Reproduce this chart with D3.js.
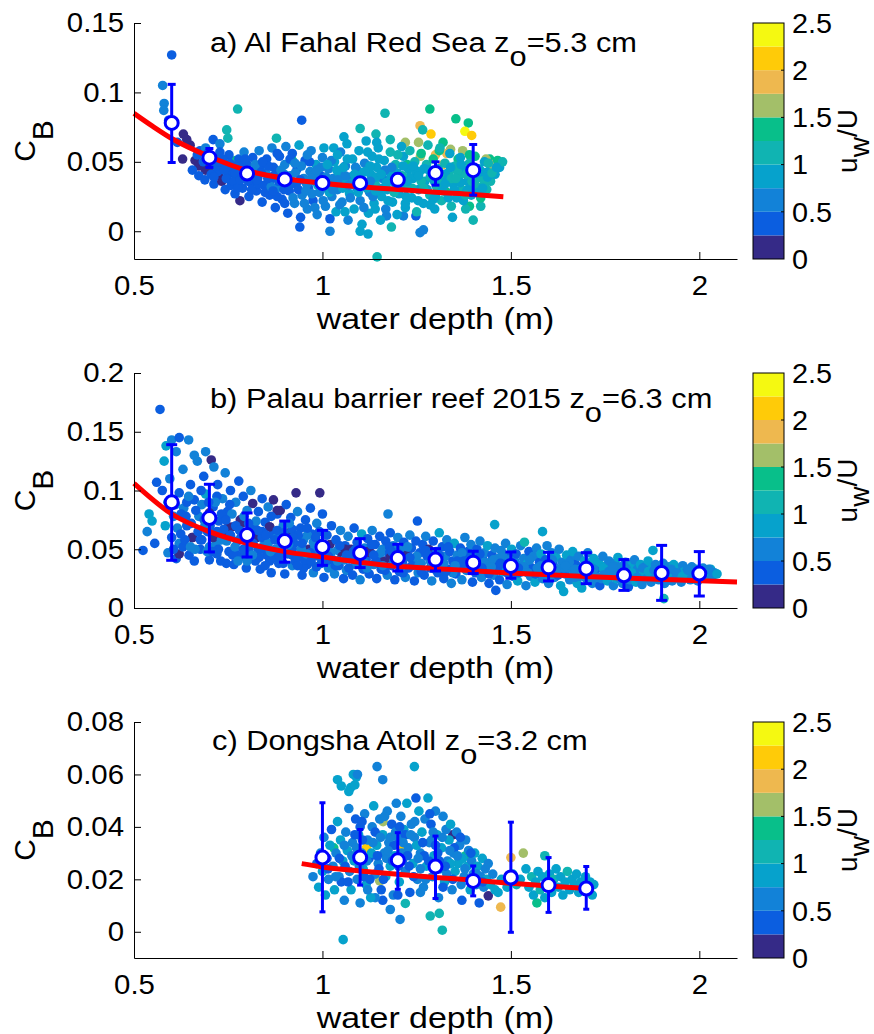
<!DOCTYPE html>
<html>
<head>
<meta charset="utf-8">
<script src="https://cdn.jsdelivr.net/npm/d3@7"></script>
<style>
  body { margin: 0; background: #fff; }
  text { font-family: "Liberation Sans", Arial, Helvetica, sans-serif; fill: #000; }
</style>
</head>
<body>
<svg id="chart" width="874" height="1034"></svg>
<script>
// ---------- data ----------
var xTicks = [0.5, 1, 1.5, 2]
var cbTicks = [0, 0.5, 1, 1.5, 2, 2.5]
var parula = ["#352a87", "#0b5ee0", "#1282d8", "#06a2cc", "#10b4b2", "#08bf8a", "#a3bf69", "#eeb84f", "#ffcb08", "#f5f911"]

var titles = [
  {pre: "a) Al Fahal Red Sea z", sub: "o", post: "=5.3 cm"},
  {pre: "b) Palau barrier reef 2015 z", sub: "o", post: "=6.3 cm"},
  {pre: "c) Dongsha Atoll z", sub: "o", post: "=3.2 cm"}
]

// [depth, C_B, u_w/U]
var scatterA = [
  [0.600,0.127,0.4],[0.576,0.105,0.6],[0.580,0.092,0.6],[0.579,0.087,0.6],[0.592,0.080,0.4],
  [0.631,0.070,0.1],[0.649,0.062,0.1],[0.629,0.052,0.1],[0.662,0.051,0.1],[0.640,0.066,0.1],[0.615,0.064,0.4],
  [0.675,0.058,0.4],[0.710,0.066,0.4],[0.746,0.073,1.1],[0.749,0.067,1.1],[0.775,0.088,1.1],[0.728,0.063,0.6],[0.690,0.060,0.6],
  [0.725,0.040,0.1],[0.781,0.022,0.1],[0.706,0.049,0.1],[0.690,0.044,0.1],[0.672,0.047,0.1],
  [0.945,0.080,0.4],[1.166,0.085,1.1],[1.285,0.088,1.4],[1.354,0.081,1.4],[1.387,0.078,1.4],
  [1.259,0.076,1.9],[1.288,0.070,2.1],[1.378,0.072,2.4],[1.396,0.069,2.1],[1.266,0.073,1.1],
  [1.100,0.074,1.1],[1.142,0.070,1.1],[1.144,0.064,0.9],[1.057,0.068,0.9],[0.878,0.067,1.1],
  [1.030,0.060,0.9],[1.180,0.066,1.1],[1.220,0.064,1.6],[1.255,0.064,1.6],[1.320,0.064,1.4],[1.340,0.059,1.6],[1.300,0.055,1.9],[1.330,0.056,1.9],[1.310,0.058,1.4],
  [1.444,0.052,1.4],[1.434,0.052,1.6],[1.372,0.058,1.6],[1.320,0.048,1.9],[1.360,0.052,1.4],[1.390,0.055,1.4],[1.260,0.054,1.6],[1.225,0.048,1.4],
  [0.770,0.051,1.4],[0.920,0.051,1.4],[1.430,0.030,1.1],
  [1.145,-0.0185,1.1],[1.259,-0.001,0.6],[1.268,0.001,0.6],[1.121,-0.002,0.9],[1.020,0.000,0.6],[0.940,0.003,0.4],[1.100,0.000,0.9],[1.183,0.003,1.1],
  [1.400,0.008,1.1],[1.345,0.010,0.9],[1.420,0.018,1.1],[1.390,0.018,1.4],[1.286,0.019,0.9],[1.248,0.011,0.4],[1.170,0.011,0.6],[1.215,0.011,0.6],
  [0.655,0.044,0.4],[0.668,0.055,0.4],[0.672,0.040,0.4],[0.684,0.050,0.4],[0.688,0.037,0.4],[0.695,0.056,0.4],[0.700,0.045,0.1],
  [0.712,0.034,0.4],[0.715,0.052,0.4],[0.722,0.043,0.4],[0.728,0.057,0.4],[0.733,0.036,0.1],[0.738,0.048,0.4],[0.742,0.030,0.4],
  [0.750,0.041,0.4],[0.752,0.055,0.4],[0.758,0.033,0.4],[0.762,0.047,0.4],[0.768,0.027,0.4],[0.772,0.038,0.6],[0.778,0.052,0.4],[0.780,0.044,0.4],
  [0.788,0.031,0.4],[0.792,0.057,0.6],[0.796,0.040,0.4],[0.800,0.048,0.4],[0.805,0.025,0.4],[0.810,0.035,0.4],[0.815,0.053,0.4],[0.818,0.043,0.6],
  [0.825,0.029,0.4],[0.828,0.038,0.4],[0.832,0.058,0.6],[0.836,0.047,0.4],[0.840,0.021,0.4],[0.845,0.033,0.4],[0.850,0.042,0.6],[0.852,0.052,0.4],
  [0.860,0.026,0.4],[0.862,0.037,0.4],[0.866,0.060,0.6],[0.870,0.046,0.4],[0.875,0.017,0.4],[0.878,0.031,0.6],[0.882,0.041,0.4],[0.886,0.054,0.4],
  [0.893,0.023,0.4],[0.896,0.035,0.4],[0.900,0.048,0.6],[0.903,0.061,0.6],[0.908,0.013,0.4],[0.912,0.029,0.4],[0.915,0.040,0.6],[0.920,0.056,0.4],
  [0.926,0.020,0.6],[0.930,0.034,0.4],[0.933,0.045,0.4],[0.938,0.062,0.9],[0.942,0.010,0.4],[0.946,0.026,0.6],[0.950,0.038,0.6],[0.954,0.051,0.4],
  [0.960,0.016,0.6],[0.963,0.031,0.4],[0.967,0.043,0.6],[0.970,0.058,0.6],[0.975,0.022,0.4],[0.978,0.036,0.6],[0.983,0.048,0.9],[0.986,0.012,0.6],
  [0.992,0.028,0.6],[0.995,0.040,0.4],[1.000,0.053,0.6],[1.004,0.060,0.9],[1.008,0.018,0.6],[1.012,0.033,0.9],[1.016,0.045,0.6],[1.020,0.009,0.4],
  [1.025,0.025,0.6],[1.028,0.038,0.6],[1.032,0.050,0.9],[1.036,0.014,0.9],[1.040,0.030,0.6],[1.044,0.042,0.9],[1.048,0.057,0.6],[1.052,0.021,0.6],
  [1.058,0.035,0.9],[1.061,0.047,0.6],[1.065,0.063,0.9],[1.068,0.008,0.6],[1.072,0.027,0.9],[1.076,0.039,0.6],[1.080,0.052,0.9],[1.084,0.016,0.9],
  [1.090,0.032,0.6],[1.093,0.044,0.9],[1.097,0.058,0.9],[1.100,0.022,0.6],[1.105,0.005,0.9],[1.108,0.036,0.9],[1.112,0.049,0.6],[1.116,0.065,0.9],
  [1.122,0.013,0.9],[1.125,0.028,0.6],[1.128,0.041,0.9],[1.132,0.054,0.9],[1.137,0.020,0.9],[1.140,0.034,1.1],[1.144,0.046,0.9],[1.148,0.060,0.9],
  [1.154,0.008,0.9],[1.157,0.025,0.9],[1.160,0.038,0.6],[1.164,0.051,0.9],[1.168,0.016,0.6],[1.172,0.030,0.9],[1.176,0.043,0.9],[1.180,0.057,1.1],
  [1.186,0.021,0.9],[1.190,0.035,0.9],[1.194,0.048,1.1],[1.198,0.012,0.9],[1.203,0.027,0.9],[1.207,0.040,0.9],[1.210,0.061,0.9],[1.215,0.054,0.9],
  [1.220,0.017,0.9],[1.224,0.032,1.1],[1.228,0.045,0.9],[1.232,0.058,1.1],[1.237,0.024,0.9],[1.240,0.038,0.9],[1.245,0.050,1.1],[1.250,0.014,1.1],
  [1.255,0.030,0.9],[1.258,0.043,1.1],[1.262,0.056,1.4],[1.268,0.020,0.9],[1.272,0.036,0.9],[1.276,0.048,1.1],[1.280,0.062,1.1],[1.285,0.026,1.1],
  [1.290,0.040,0.9],[1.294,0.052,1.4],[1.298,0.016,0.9],[1.303,0.032,1.1],[1.307,0.045,0.9],[1.312,0.060,1.1],[1.316,0.022,1.1],[1.320,0.037,0.9],
  [1.325,0.049,1.1],[1.330,0.028,1.4],[1.334,0.042,1.1],[1.338,0.056,0.9],[1.342,0.018,1.1],[1.347,0.034,0.9],[1.352,0.047,1.1],[1.356,0.024,0.9],
  [1.361,0.039,1.1],[1.366,0.053,0.9],[1.370,0.030,1.1],[1.375,0.044,0.9],[1.380,0.016,1.1],[1.385,0.036,0.9],[1.390,0.049,1.1],[1.395,0.026,0.9],
  [1.400,0.041,0.9],[1.405,0.054,1.4],[1.410,0.032,1.1],[1.415,0.045,0.9],[1.420,0.024,1.4],[1.425,0.038,1.1],[1.430,0.050,0.9],[1.436,0.030,1.1],
  [1.440,0.043,0.9],[1.446,0.036,1.1],[1.452,0.048,1.6],[1.458,0.041,0.9],[1.465,0.051,1.4],[1.470,0.046,0.9],[1.478,0.050,1.1]
]
var coreA = [
  [0.705,0.041,0.4],[0.718,0.047,0.4],[0.735,0.052,0.4],[0.745,0.038,0.4],[0.757,0.044,0.4],[0.765,0.036,0.4],[0.775,0.031,0.4],[0.785,0.047,0.4],
  [0.795,0.052,0.4],[0.803,0.036,0.4],[0.812,0.030,0.4],[0.822,0.048,0.6],[0.830,0.034,0.4],[0.838,0.042,0.4],[0.848,0.028,0.4],[0.856,0.047,0.4],
  [0.864,0.032,0.6],[0.872,0.040,0.4],[0.880,0.025,0.4],[0.890,0.044,0.6],[0.898,0.030,0.4],[0.906,0.036,0.4],[0.914,0.052,0.4],[0.922,0.024,0.6],
  [0.928,0.042,0.6],[0.936,0.030,0.4],[0.944,0.047,0.6],[0.952,0.020,0.6],[0.958,0.034,0.6],[0.966,0.050,0.4],[0.972,0.027,0.6],[0.980,0.041,0.6],
  [0.988,0.033,0.9],[0.996,0.046,0.6],[1.002,0.022,0.6],[1.010,0.039,0.6],[1.018,0.028,0.9],[1.024,0.051,0.6],[1.030,0.034,0.6],[1.038,0.044,0.9],
  [1.046,0.019,0.6],[1.054,0.031,0.9],[1.060,0.040,0.6],[1.066,0.052,0.9],[1.074,0.024,0.6],[1.082,0.035,0.9],[1.088,0.046,0.6],[1.095,0.028,0.9],
  [1.102,0.040,0.9],[1.110,0.017,0.6],[1.118,0.031,0.9],[1.126,0.047,0.9],[1.134,0.025,0.6],[1.142,0.039,0.9],[1.150,0.052,0.9],[1.158,0.031,0.9],
  [1.166,0.044,0.6],[1.174,0.022,0.9],[1.182,0.038,0.9],[1.190,0.028,1.1],[1.198,0.042,0.9],[1.206,0.033,0.9],[1.214,0.047,0.9],[1.222,0.025,0.9],
  [1.230,0.039,0.9],[1.238,0.031,1.1],[1.246,0.044,0.9],[1.254,0.022,0.9],[1.262,0.036,1.1],[1.270,0.045,0.9],[1.278,0.030,0.9],[1.286,0.039,1.1],
  [1.294,0.023,0.9],[1.302,0.044,0.9],[1.310,0.034,1.1],[1.318,0.029,0.9],[1.326,0.041,0.9],[1.334,0.024,0.9],[1.342,0.038,1.1],[1.350,0.030,0.9],
  [1.358,0.043,1.1],[1.366,0.035,0.9],[1.374,0.022,0.9],[1.382,0.041,1.1],[1.390,0.031,0.9],[1.398,0.046,0.9],[1.406,0.037,1.1],[1.414,0.028,0.9],
  [1.422,0.043,0.9],[1.430,0.034,1.1],[1.438,0.039,0.9],[1.450,0.042,1.1],[1.462,0.046,0.9],
  [0.712,0.039,0.4],[0.726,0.050,0.4],[0.740,0.044,0.4],[0.754,0.049,0.4],[0.768,0.042,0.4],[0.782,0.037,0.4],[0.797,0.044,0.4],[0.811,0.041,0.4],
  [0.826,0.037,0.4],[0.841,0.050,0.4],[0.855,0.038,0.4],[0.869,0.029,0.4],[0.884,0.036,0.4],[0.899,0.041,0.6],[0.913,0.033,0.4],[0.927,0.049,0.6],
  [0.941,0.037,0.4],[0.956,0.029,0.6],[0.970,0.038,0.6],[0.985,0.044,0.6],[0.999,0.031,0.6],[1.013,0.048,0.9],[1.027,0.030,0.6],[1.041,0.037,0.6],
  [1.056,0.046,0.9],[1.070,0.033,0.6],[1.085,0.041,0.9],[1.099,0.034,0.6],[1.113,0.043,0.9],[1.127,0.036,0.6],[1.141,0.029,0.9],[1.156,0.041,0.9],
  [1.170,0.035,0.9],[1.184,0.046,0.6],[1.198,0.032,0.9],[1.212,0.040,1.1],[1.226,0.036,0.9],[1.241,0.047,0.9],[1.255,0.040,0.9],[1.269,0.031,1.1],
  [1.283,0.044,0.9],[1.297,0.036,0.9],[1.311,0.041,1.1],[1.325,0.034,0.9],[1.340,0.046,0.9],[1.354,0.038,1.1],[1.368,0.048,0.9],[1.383,0.029,0.9],
  [1.397,0.036,1.1],[1.411,0.042,0.9],[1.425,0.031,0.9],[1.440,0.049,1.1],[0.880,0.056,0.4],[0.960,0.055,0.6],[1.040,0.055,0.9],[1.120,0.057,0.9],
  [1.200,0.055,1.1],[0.900,0.020,0.4],[0.980,0.017,0.6],[1.060,0.014,0.9],[1.140,0.016,0.9],[1.220,0.020,0.9],[1.300,0.025,0.9],[1.380,0.026,1.1]
]

var scatterB = [
  [0.569,0.169,0.4],[0.524,0.049,0.4],[0.555,0.055,0.4],[0.540,0.080,0.9],[0.548,0.074,0.9],[0.560,0.107,0.4],[0.535,0.065,0.6],
  [0.585,0.138,0.9],[0.600,0.143,0.6],[0.620,0.145,0.4],[0.645,0.143,0.6],[0.660,0.130,0.6],[0.690,0.133,0.6],[0.580,0.125,0.9],[0.612,0.133,0.6],
  [0.595,0.110,0.6],[0.575,0.100,0.4],[0.590,0.090,0.6],[0.583,0.070,0.9],[0.600,0.060,0.4],[0.590,0.047,0.6],[0.612,0.042,0.4],[0.605,0.078,0.6],
  [0.620,0.098,0.4],[0.630,0.118,0.6],[0.632,0.085,0.6],[0.640,0.070,0.4],[0.620,0.055,0.6],[0.646,0.045,0.4],[0.655,0.060,0.1],[0.650,0.105,0.4],[0.660,0.092,0.4],
  [0.668,0.125,0.6],[0.672,0.078,0.6],[0.676,0.050,0.4],[0.685,0.112,0.4],[0.690,0.097,0.9],[0.695,0.065,0.4],[0.700,0.041,0.4],[0.705,0.126,0.1],
  [0.710,0.086,0.4],[0.712,0.120,0.6],[0.718,0.055,0.6],[0.722,0.105,0.4],[0.725,0.074,0.4],[0.730,0.040,0.4],[0.735,0.093,0.6],[0.740,0.062,0.1],
  [0.742,0.115,0.6],[0.748,0.082,0.4],[0.752,0.048,0.4],[0.756,0.100,0.4],[0.760,0.069,0.1],[0.765,0.037,0.4],[0.770,0.090,0.6],[0.774,0.057,0.4],
  [0.778,0.108,0.4],[0.782,0.075,0.1],[0.786,0.044,0.4],[0.790,0.095,0.4],[0.794,0.064,0.6],[0.798,0.034,0.4],[0.800,0.083,0.6],[0.805,0.050,0.4],
  [0.810,0.100,0.6],[0.815,0.089,0.1],[0.818,0.070,0.4],[0.822,0.040,0.4],[0.826,0.060,0.1],[0.830,0.082,0.4],[0.835,0.033,0.4],[0.840,0.093,0.4],
  [0.844,0.053,0.6],[0.848,0.073,0.4],[0.852,0.045,0.4],[0.856,0.086,0.6],[0.860,0.069,0.1],[0.864,0.030,0.4],[0.868,0.062,0.4],[0.870,0.092,0.1],
  [0.875,0.050,0.6],[0.880,0.080,0.4],[0.884,0.038,0.4],[0.888,0.083,0.1],[0.892,0.058,0.4],[0.896,0.070,0.6],[0.900,0.029,0.4],[0.904,0.088,0.4],
  [0.908,0.046,0.4],[0.912,0.064,0.1],[0.916,0.077,0.4],[0.920,0.036,0.6],[0.925,0.055,0.4],[0.930,0.098,0.1],[0.934,0.082,0.6],[0.938,0.044,0.4],
  [0.942,0.068,0.4],[0.946,0.028,0.4],[0.950,0.058,0.6],[0.955,0.075,0.4],[0.960,0.037,0.4],[0.964,0.050,0.1],[0.968,0.085,0.4],[0.972,0.063,0.4],
  [0.976,0.030,0.6],[0.980,0.045,0.4],[0.985,0.072,0.6],[0.990,0.055,0.4],[0.993,0.098,0.1],[0.997,0.038,0.4],[1.000,0.080,0.4],
  [0.700,0.081,0.1],[0.750,0.069,0.1],[0.785,0.072,0.1],[0.860,0.069,0.1],[0.880,0.083,0.1],[0.620,0.046,0.1],[0.655,0.060,0.1],
  [0.630,0.052,0.4],[0.660,0.040,0.4],[0.680,0.058,0.4],[0.700,0.052,0.6],[0.720,0.046,0.4],[0.745,0.038,0.4],[0.770,0.046,0.4],[0.800,0.040,0.6],
  [0.830,0.050,0.4],[0.860,0.040,0.4],[0.890,0.048,0.4],[0.920,0.045,0.4],[0.950,0.034,0.4],[0.980,0.052,0.6],[0.640,0.090,0.4],[0.680,0.088,0.6],
  [0.720,0.095,0.4],[0.760,0.080,0.6],[0.800,0.060,0.4],[0.840,0.065,0.4],[0.880,0.060,0.6],[0.920,0.067,0.4],[0.960,0.062,0.6],[0.990,0.044,0.4],
  [1.004,0.026,0.4],[1.008,0.047,0.6],[1.012,0.062,0.4],[1.016,0.034,0.6],[1.020,0.054,0.1],[1.024,0.070,0.4],[1.028,0.041,0.4],
  [1.032,0.029,0.6],[1.036,0.058,0.4],[1.040,0.049,0.6],[1.044,0.036,0.4],[1.048,0.066,0.6],[1.052,0.044,0.1],[1.056,0.025,0.4],
  [1.060,0.053,0.4],[1.064,0.032,0.6],[1.068,0.061,0.6],[1.072,0.042,0.4],[1.076,0.050,0.1],[1.080,0.028,0.4],[1.084,0.068,0.4],
  [1.088,0.037,0.6],[1.092,0.056,0.4],[1.096,0.046,0.4],[1.100,0.024,0.6],[1.104,0.063,0.9],[1.108,0.033,0.4],[1.112,0.051,0.6],
  [1.116,0.041,0.4],[1.120,0.059,0.4],[1.124,0.029,0.4],[1.128,0.047,0.1],[1.132,0.066,0.6],[1.136,0.037,0.6],[1.140,0.054,0.4],
  [1.144,0.025,0.4],[1.148,0.044,0.6],[1.152,0.061,0.4],[1.156,0.033,0.4],[1.160,0.050,0.6],[1.164,0.040,0.1],[1.168,0.057,0.4],
  [1.174,0.080,0.6],[1.172,0.028,0.6],[1.176,0.046,0.4],[1.180,0.064,0.4],[1.184,0.036,0.4],[1.188,0.053,0.6],[1.192,0.024,0.4],
  [1.196,0.043,0.4],[1.200,0.060,0.6],[1.204,0.031,0.4],[1.208,0.049,0.6],[1.212,0.039,0.4],[1.216,0.056,0.4],[1.220,0.026,0.6],
  [1.224,0.045,0.1],[1.228,0.034,0.4],[1.232,0.062,0.6],[1.236,0.051,0.4],[1.240,0.041,0.6],[1.244,0.023,0.4],[1.248,0.057,0.4],
  [1.252,0.074,0.4],[1.254,0.030,0.6],[1.258,0.047,0.4],[1.262,0.038,0.6],[1.266,0.054,0.4],[1.270,0.028,0.4],[1.274,0.061,0.6],
  [1.278,0.044,0.4],[1.282,0.050,0.1],[1.286,0.034,0.4],[1.290,0.023,0.6],[1.294,0.057,0.4],[1.298,0.041,0.6],[1.302,0.048,0.4],
  [1.060,0.050,0.1],[1.120,0.048,0.1],[1.180,0.043,0.1],
  [1.306,0.030,0.4],[1.310,0.064,0.9],[1.314,0.037,0.6],[1.318,0.052,0.4],[1.322,0.025,0.4],[1.326,0.044,0.6],[1.330,0.058,0.6],
  [1.334,0.033,0.4],[1.338,0.048,0.4],[1.342,0.021,0.6],[1.346,0.040,0.4],[1.350,0.055,0.9],[1.354,0.029,0.4],[1.358,0.045,0.6],
  [1.362,0.036,0.4],[1.366,0.051,0.4],[1.370,0.024,0.6],[1.374,0.042,0.4],[1.378,0.060,0.6],[1.382,0.032,0.6],[1.386,0.048,0.4],
  [1.390,0.038,0.4],[1.394,0.054,0.6],[1.398,0.022,0.4],[1.402,0.044,0.9],[1.406,0.030,0.4],[1.410,0.050,0.4],[1.414,0.036,0.6],
  [1.418,0.057,0.6],[1.422,0.026,0.6],[1.426,0.041,0.4],[1.430,0.047,0.6],[1.434,0.033,0.4],[1.438,0.053,0.9],[1.442,0.021,0.4],
  [1.446,0.039,0.6],[1.450,0.045,0.4],[1.454,0.028,0.6],[1.457,0.071,0.9],[1.458,0.051,0.6],[1.460,0.015,0.4],[1.462,0.035,0.4],[1.466,0.042,0.6],
  [1.470,0.024,0.4],[1.474,0.049,0.6],[1.478,0.031,0.9],[1.482,0.038,0.4],[1.486,0.055,0.6],[1.490,0.020,0.6],[1.494,0.044,0.4],
  [1.498,0.034,0.6],[1.502,0.050,0.9],[1.506,0.027,0.4],[1.510,0.040,0.6],[1.514,0.046,0.4],[1.518,0.023,0.9],[1.522,0.036,0.6],
  [1.526,0.053,0.6],[1.530,0.031,0.4],[1.534,0.042,0.6],[1.536,0.056,1.1],[1.540,0.019,0.6],[1.544,0.038,0.9],[1.548,0.048,0.4],
  [1.552,0.027,0.6],[1.556,0.034,0.4],[1.560,0.044,0.6],[1.564,0.022,0.9],[1.568,0.051,0.6],[1.572,0.030,0.6],[1.576,0.039,0.4],
  [1.584,0.065,0.9],[1.580,0.046,0.9],[1.584,0.025,0.6],[1.588,0.035,0.6],[1.592,0.041,0.4],[1.596,0.053,0.6],[1.600,0.021,0.6],
  [1.604,0.030,0.9],[1.608,0.047,0.6],[1.612,0.037,0.4],[1.616,0.026,0.6],[1.620,0.043,0.9],[1.624,0.033,0.6],[1.628,0.050,0.6],
  [1.632,0.019,0.9],[1.636,0.039,0.6],[1.640,0.014,0.9],[1.644,0.029,0.4],[1.648,0.045,0.9],[1.652,0.034,0.6],[1.656,0.024,0.6],
  [1.660,0.041,0.6],[1.664,0.048,0.9],[1.668,0.030,0.6],[1.672,0.037,0.4],[1.676,0.021,0.9],[1.680,0.044,0.6],[1.684,0.027,0.6],
  [1.688,0.017,0.9],[1.692,0.034,0.6],[1.696,0.040,0.9],
  [1.700,0.025,0.6],[1.704,0.047,0.6],[1.708,0.031,0.9],[1.712,0.037,0.6],[1.716,0.021,0.6],[1.720,0.042,0.9],[1.724,0.028,0.6],
  [1.728,0.034,0.4],[1.732,0.039,0.9],[1.736,0.019,0.4],[1.740,0.025,0.6],[1.744,0.044,0.6],[1.748,0.031,0.6],[1.752,0.036,0.9],
  [1.756,0.023,0.9],[1.760,0.040,0.6],[1.764,0.028,0.6],[1.768,0.033,0.9],[1.772,0.019,0.6],[1.776,0.038,0.6],[1.780,0.025,0.9],
  [1.784,0.043,0.9],[1.788,0.030,0.6],[1.792,0.035,0.6],[1.796,0.021,0.6],[1.800,0.027,0.9],[1.804,0.039,0.6],[1.808,0.032,0.9],
  [1.812,0.018,0.4],[1.816,0.024,0.6],[1.820,0.036,0.9],[1.824,0.029,0.6],[1.828,0.041,0.6],[1.832,0.022,0.9],[1.836,0.033,0.6],
  [1.840,0.027,0.6],[1.844,0.037,0.9],[1.848,0.020,0.6],[1.852,0.031,0.9],[1.856,0.035,0.6],[1.860,0.025,0.6],[1.864,0.040,0.9],
  [1.868,0.029,0.6],[1.872,0.022,0.6],[1.877,0.049,0.9],[1.876,0.034,0.9],[1.880,0.027,0.6],[1.884,0.037,0.6],[1.888,0.031,0.9],
  [1.892,0.024,0.6],[1.896,0.034,0.6],[1.900,0.028,0.9],[1.904,0.038,0.6],[1.906,0.008,1.1],[1.908,0.021,0.6],[1.912,0.032,0.9],
  [1.916,0.026,0.6],[1.920,0.035,0.6],[1.924,0.029,0.9],[1.928,0.023,0.6],[1.932,0.037,0.9],[1.936,0.031,0.6],[1.940,0.026,0.6],
  [1.944,0.034,0.9],[1.948,0.029,0.6],[1.952,0.022,0.6],[1.956,0.036,0.6],[1.960,0.031,0.9],[1.964,0.026,0.6],[1.968,0.033,0.6],
  [1.972,0.029,0.9],[1.976,0.024,0.6],[1.980,0.035,0.6],[1.984,0.030,0.6],[1.988,0.027,0.9],[1.992,0.033,0.6],[1.996,0.023,0.6],
  [2.000,0.031,0.9],[2.005,0.028,0.6],[2.010,0.034,0.6],[2.015,0.026,0.9],[2.020,0.031,0.6],[2.025,0.029,0.6],[2.030,0.033,0.9],
  [2.035,0.027,0.6],[2.040,0.030,0.6],[2.047,0.029,0.9]
]
var coreB = [
  [0.605,0.050,0.4],[0.615,0.068,0.6],[0.625,0.080,0.4],[0.635,0.058,0.4],[0.645,0.095,0.6],[0.652,0.072,0.4],[0.662,0.050,0.6],[0.670,0.065,0.4],
  [0.678,0.100,0.4],[0.686,0.075,0.4],[0.694,0.048,0.6],[0.702,0.070,0.4],[0.710,0.060,0.1],[0.716,0.090,0.6],[0.724,0.050,0.4],[0.732,0.080,0.4],
  [0.738,0.067,0.4],[0.746,0.057,0.6],[0.754,0.088,0.4],[0.762,0.045,0.4],[0.770,0.070,0.4],[0.776,0.040,0.6],[0.784,0.060,0.4],[0.792,0.078,0.6],
  [0.800,0.046,0.4],[0.808,0.065,0.4],[0.816,0.055,0.4],[0.824,0.074,0.6],[0.832,0.043,0.4],[0.840,0.060,0.4],[0.848,0.036,0.4],[0.856,0.055,0.6],
  [0.864,0.078,0.4],[0.872,0.043,0.4],[0.880,0.066,0.4],[0.888,0.052,0.6],[0.896,0.038,0.4],[0.904,0.058,0.4],[0.912,0.072,0.6],[0.920,0.050,0.4],
  [0.928,0.040,0.4],[0.936,0.062,0.4],[0.944,0.050,0.6],[0.952,0.041,0.4],[0.960,0.068,0.4],[0.968,0.047,0.4],[0.976,0.056,0.6],[0.984,0.035,0.4],
  [0.992,0.065,0.4],
  [1.010,0.040,0.4],[1.022,0.047,0.6],[1.034,0.036,0.4],[1.046,0.053,0.4],[1.058,0.041,0.6],[1.070,0.034,0.4],[1.082,0.048,0.4],[1.094,0.040,0.6],
  [1.106,0.045,0.4],[1.118,0.034,0.6],[1.130,0.054,0.4],[1.142,0.040,0.4],[1.154,0.047,0.6],[1.166,0.032,0.4],[1.178,0.052,0.4],[1.190,0.040,0.6],
  [1.202,0.046,0.4],[1.214,0.030,0.4],[1.226,0.052,0.6],[1.238,0.036,0.4],[1.250,0.044,0.6],[1.262,0.031,0.4],[1.274,0.049,0.4],[1.286,0.040,0.6],
  [1.298,0.033,0.4],[1.310,0.045,0.4],[1.322,0.038,0.6],[1.334,0.052,0.4],[1.346,0.030,0.6],[1.358,0.040,0.4],[1.370,0.047,0.6],[1.382,0.036,0.4],
  [1.394,0.043,0.4],[1.406,0.033,0.6],[1.418,0.046,0.4],[1.430,0.039,0.6],[1.442,0.029,0.4],[1.454,0.041,0.6],[1.466,0.035,0.4],[1.478,0.045,0.6],
  [1.490,0.030,0.4],
  [1.505,0.038,0.6],[1.520,0.030,0.4],[1.535,0.035,0.6],[1.550,0.041,0.6],[1.565,0.029,0.4],[1.580,0.036,0.6],[1.595,0.030,0.6],[1.610,0.041,0.6],
  [1.625,0.028,0.4],[1.640,0.034,0.6],[1.655,0.039,0.6],[1.670,0.026,0.6],[1.685,0.033,0.9],[1.700,0.037,0.6],[1.715,0.029,0.6],[1.730,0.026,0.6],
  [1.745,0.034,0.9],[1.760,0.031,0.6],[1.775,0.029,0.6],[1.790,0.025,0.6],[1.805,0.034,0.6],[1.820,0.030,0.9],[1.835,0.026,0.6],[1.850,0.034,0.6],
  [1.865,0.031,0.9],[1.880,0.032,0.6],[1.895,0.028,0.6],[1.910,0.027,0.9],[1.925,0.033,0.6],[1.940,0.030,0.6],[1.955,0.027,0.9],[1.970,0.032,0.6],
  [1.985,0.025,0.6],[2.000,0.026,0.6],[2.012,0.030,0.9],[2.025,0.033,0.6],
  [0.610,0.088,0.6],[0.624,0.063,0.4],[0.638,0.078,0.4],[0.650,0.052,0.6],[0.664,0.083,0.4],[0.676,0.058,0.4],[0.688,0.070,0.6],[0.698,0.090,0.4],
  [0.708,0.048,0.4],[0.720,0.065,0.4],[0.732,0.058,0.6],[0.744,0.075,0.4],[0.756,0.062,0.4],[0.768,0.052,0.6],[0.780,0.066,0.4],[0.790,0.050,0.4],
  [0.804,0.072,0.4],[0.814,0.045,0.6],[0.828,0.066,0.4],[0.838,0.050,0.4],[0.850,0.062,0.4],[0.862,0.048,0.6],[0.874,0.058,0.4],[0.886,0.044,0.4],
  [0.898,0.064,0.4],[0.910,0.054,0.6],[0.922,0.060,0.4],[0.934,0.036,0.4],[0.946,0.055,0.4],[0.958,0.046,0.6],[0.970,0.040,0.4],[0.982,0.060,0.4],
  [0.994,0.048,0.6],[1.016,0.044,0.4],[1.040,0.040,0.6],[1.064,0.045,0.4],[1.088,0.050,0.4],[1.112,0.038,0.6],[1.136,0.045,0.4],[1.160,0.036,0.6],
  [1.184,0.048,0.4],[1.208,0.035,0.6],[1.232,0.043,0.4],[1.256,0.036,0.6],[1.280,0.045,0.4],[1.304,0.038,0.6],[1.328,0.031,0.4],[1.352,0.036,0.6],
  [1.376,0.040,0.4],[1.400,0.037,0.6],[1.424,0.034,0.4],[1.448,0.035,0.6],[1.472,0.038,0.4],[1.496,0.041,0.6],[1.520,0.034,0.4],[1.545,0.030,0.6],
  [1.570,0.034,0.6],[1.595,0.037,0.4],[1.620,0.031,0.6],[1.645,0.036,0.6],[1.670,0.033,0.6],[1.695,0.030,0.6],[1.720,0.033,0.6],[1.745,0.028,0.6],
  [1.770,0.035,0.6],[1.795,0.031,0.6]
]

var scatterC = [
  [1.145,0.063,0.6],[1.244,0.063,0.9],[1.082,0.060,0.9],[1.090,0.059,0.9],[1.093,0.060,0.6],[1.040,0.058,0.9],[1.050,0.0556,0.9],
  [1.160,0.058,0.6],[1.075,0.055,0.9],[1.070,0.0535,0.9],[1.086,0.056,0.9],
  [1.055,-0.003,0.9],[1.318,0.0006,1.1],[1.286,0.006,1.1],[1.206,0.0047,0.6],[1.473,0.0094,1.9],[1.500,0.0283,1.9],[1.533,0.030,1.6],
  [1.569,0.011,1.4],[1.590,0.029,1.1],[1.161,0.042,1.6],[1.152,0.0194,1.6],[1.117,0.032,2.1],[1.216,0.032,2.1],[1.346,0.037,0.1],
  [1.440,0.0137,0.1],[1.220,0.0108,1.1],[1.030,0.032,1.4],[1.380,0.029,1.4],[1.180,0.0085,0.6],[1.160,0.012,0.4],[1.310,0.007,1.1],
  [1.140,0.013,0.6],[1.370,0.012,0.4],
  [0.975,0.021,0.6],[0.985,0.026,0.4],[0.990,0.017,0.9],[0.995,0.030,0.6],[1.000,0.023,0.9],[1.004,0.036,0.6],[1.008,0.014,0.9],
  [1.012,0.028,0.4],[1.016,0.020,0.6],[1.020,0.033,0.9],[1.024,0.039,0.4],[1.028,0.025,0.6],[1.032,0.016,0.9],[1.036,0.030,0.6],
  [1.040,0.042,0.9],[1.044,0.021,0.6],[1.048,0.035,0.9],[1.050,0.019,0.4],[1.054,0.027,0.9],[1.058,0.012,0.6],[1.062,0.038,0.6],
  [1.066,0.031,0.9],[1.070,0.047,0.6],[1.072,0.023,0.6],[1.076,0.016,0.9],[1.080,0.034,0.6],[1.084,0.027,0.9],[1.088,0.043,0.4],
  [1.092,0.020,0.6],[1.096,0.037,0.9],[1.100,0.011,0.6],[1.104,0.030,0.6],[1.108,0.024,0.9],[1.112,0.045,0.6],[1.116,0.018,0.9],
  [1.120,0.035,0.6],[1.124,0.028,0.4],[1.128,0.013,0.9],[1.132,0.040,0.6],[1.136,0.048,0.9],[1.140,0.022,0.6],[1.144,0.033,0.9],
  [1.148,0.026,0.6],[1.152,0.043,0.6],[1.156,0.016,0.4],[1.160,0.037,0.9],[1.164,0.030,0.6],[1.168,0.021,0.9],[1.172,0.046,0.6],
  [1.176,0.034,0.6],[1.180,0.025,0.9],[1.184,0.041,0.4],[1.188,0.014,0.6],[1.192,0.029,0.9],[1.196,0.049,0.6],[1.200,0.036,0.6],
  [1.204,0.019,0.9],[1.208,0.044,0.6],[1.212,0.027,0.4],[1.216,0.039,0.9],[1.220,0.023,0.6],[1.224,0.049,0.9],[1.228,0.032,0.6],
  [1.232,0.015,0.4],[1.236,0.041,0.6],[1.240,0.026,0.9],[1.244,0.036,0.6],[1.248,0.051,0.4],[1.252,0.020,0.6],[1.256,0.046,0.9],
  [1.260,0.030,0.6],[1.264,0.038,0.9],[1.268,0.017,0.6],[1.272,0.043,0.6],[1.276,0.025,0.9],[1.280,0.051,0.9],[1.284,0.034,0.6],
  [1.288,0.041,0.4],[1.292,0.021,0.6],[1.296,0.029,0.9],[1.300,0.046,0.6],[1.304,0.037,0.9],[1.308,0.013,0.6],[1.312,0.024,0.6],
  [1.316,0.032,0.9],[1.320,0.044,0.6],[1.324,0.019,0.9],[1.328,0.039,0.6],[1.332,0.027,0.6],[1.336,0.035,0.9],[1.340,0.041,0.9],
  [1.344,0.016,0.6],[1.348,0.030,0.6],[1.352,0.023,0.9],[1.356,0.038,0.6],[1.360,0.026,0.9],[1.364,0.033,0.6],[1.368,0.018,0.6],
  [1.372,0.028,0.9],[1.376,0.021,0.6],[1.380,0.035,0.6],[1.384,0.025,0.9],[1.388,0.031,0.6],[1.392,0.016,0.9],[1.396,0.027,0.6],
  [1.400,0.022,0.6],[1.404,0.030,0.9],[1.408,0.018,0.6],[1.412,0.025,0.9],[1.416,0.011,0.4],[1.420,0.021,0.6],[1.424,0.028,0.9],
  [1.428,0.017,0.6],[1.432,0.024,0.6],[1.436,0.020,0.9],[1.440,0.026,0.6],[1.446,0.018,0.9],[1.452,0.022,0.6],[1.458,0.016,0.9],
  [1.466,0.015,0.9],[1.475,0.020,0.9],[1.490,0.017,0.9],[1.505,0.022,0.9],[1.515,0.018,1.1],[1.525,0.020,0.9],[1.540,0.024,0.9],
  [1.548,0.017,0.9],[1.555,0.021,1.1],[1.560,0.014,0.9],[1.566,0.019,0.9],[1.572,0.023,0.9],[1.578,0.016,1.1],[1.584,0.021,0.9],
  [1.590,0.013,0.9],[1.596,0.018,0.9],[1.602,0.022,0.9],[1.608,0.015,0.9],[1.614,0.020,1.1],[1.620,0.024,0.9],[1.626,0.017,0.9],
  [1.632,0.021,0.9],[1.638,0.014,0.9],[1.644,0.019,0.9],[1.650,0.023,1.1],[1.656,0.016,0.9],[1.662,0.020,0.9],[1.668,0.018,0.9],
  [1.674,0.022,0.9],[1.680,0.015,0.9],[1.686,0.019,0.9],[1.692,0.017,0.9],[1.698,0.021,0.9],[1.704,0.016,0.9],[1.710,0.019,0.9],
  [1.716,0.014,0.9],[1.720,0.018,0.9]
]
var coreC = [
  [1.060,0.025,0.4],[1.090,0.032,0.6],[1.110,0.021,0.4],[1.130,0.030,0.9],[1.150,0.024,0.4],[1.170,0.028,0.6],[1.190,0.033,0.4],
  [1.210,0.030,0.6],[1.230,0.025,0.4],[1.250,0.033,0.9],[1.270,0.029,0.4],[1.290,0.035,0.6],[1.310,0.027,0.4],[1.330,0.022,0.6],
  [1.350,0.032,0.4],[1.100,0.040,0.4],[1.140,0.038,0.4],[1.180,0.036,0.6],[1.220,0.037,0.4],[1.260,0.024,0.6],[1.300,0.033,0.4],[1.340,0.026,0.9],
  [1.015,0.024,0.4],[1.035,0.021,0.6],[1.045,0.028,0.4],[1.058,0.033,0.6],[1.068,0.019,0.4],[1.078,0.029,0.6],[1.086,0.037,0.4],[1.098,0.025,0.6],
  [1.106,0.035,0.4],[1.118,0.027,0.6],[1.126,0.020,0.4],[1.134,0.034,0.6],[1.146,0.029,0.4],[1.154,0.036,0.6],[1.162,0.020,0.4],[1.174,0.031,0.6],
  [1.186,0.027,0.4],[1.194,0.038,0.6],[1.202,0.025,0.4],[1.214,0.034,0.6],[1.226,0.029,0.4],[1.234,0.037,0.6],[1.242,0.021,0.4],[1.254,0.028,0.6],
  [1.266,0.034,0.4],[1.274,0.020,0.6],[1.282,0.027,0.4],[1.294,0.038,0.6],[1.306,0.030,0.4],[1.318,0.036,0.6],[1.326,0.025,0.4],[1.338,0.031,0.6],
  [1.346,0.020,0.4],[1.358,0.029,0.6],[1.366,0.036,0.4],[1.378,0.024,0.6],[1.394,0.030,0.4],[1.410,0.022,0.6],[1.425,0.019,0.4],[1.105,0.042,0.4],
  [1.165,0.044,0.6],[1.205,0.040,0.4],[1.245,0.042,0.6],[1.285,0.045,0.4],[1.120,0.016,0.6],[1.200,0.014,0.4],[1.260,0.015,0.6],[1.320,0.017,0.4]
]

// binned means with error bars: [depth, mean, low, high]
var binsA = [
  [0.6,0.078,0.0495,0.1058],[0.7,0.053,0.046,0.0596],[0.8,0.0416,0.038,0.045],[0.9,0.0373,0.034,0.041],[1.0,0.0348,0.031,0.038],
  [1.1,0.0346,0.031,0.038],[1.2,0.037,0.033,0.041],[1.3,0.042,0.0332,0.050],[1.4,0.044,0.026,0.0625]
]
var binsB = [
  [0.6,0.090,0.0406,0.139],[0.7,0.0766,0.0477,0.1053],[0.8,0.0621,0.0434,0.0809],[0.9,0.057,0.039,0.074],[1.0,0.0519,0.0363,0.0661],
  [1.1,0.0468,0.0344,0.059],[1.2,0.0426,0.0315,0.0542],[1.3,0.0412,0.0315,0.0505],[1.4,0.0386,0.0293,0.0483],[1.5,0.0358,0.0253,0.0477],
  [1.6,0.0346,0.023,0.0474],[1.7,0.0335,0.0207,0.0471],[1.8,0.0278,0.015,0.0412],[1.9,0.0298,0.0065,0.0533],[2.0,0.0293,0.0102,0.048]
]
var binsC = [
  [1.0,0.0283,0.0076,0.0492],[1.1,0.0283,0.0178,0.039],[1.2,0.0273,0.0162,0.0378],[1.3,0.0249,0.0127,0.0365],
  [1.4,0.0194,0.0137,0.0251],[1.5,0.0207,-0.0002,0.0418],[1.6,0.0178,0.0074,0.0283],[1.7,0.0165,0.0086,0.0249]
]

// red fitted curves, read point by point
var fitA = [[0.5,0.0849],[0.55,0.0755],[0.6,0.0668],[0.7,0.0538],[0.8,0.0437],[0.9,0.038],[1.0,0.0346],[1.1,0.032],[1.2,0.0301],[1.3,0.0281],[1.4,0.0265],[1.48,0.0248]]
var fitB = [[0.5,0.106],[0.6,0.080],[0.7,0.065],[0.8,0.055],[0.9,0.048],[1.0,0.0435],[1.1,0.039],[1.2,0.0355],[1.3,0.0335],[1.4,0.0318],[1.5,0.0297],[1.6,0.0284],[1.7,0.0268],[1.8,0.0255],[1.9,0.0243],[2.0,0.0232],[2.1,0.0222]]
var fitC = [[0.945,0.026],[1.0,0.0247],[1.1,0.0232],[1.2,0.0219],[1.3,0.0207],[1.4,0.0197],[1.5,0.0185],[1.6,0.0175],[1.72,0.0163]]

var panels = [
  {top: 23, bottom: 259, yDomain: [-0.02, 0.15], yTicks: [0, 0.05, 0.1, 0.15], pts: scatterA.concat(coreA), bins: binsA, fit: fitA, title: titles[0], tx: 210, ty: 52, cap: 4},
  {top: 373, bottom: 608, yDomain: [0, 0.2], yTicks: [0, 0.05, 0.1, 0.15, 0.2], pts: scatterB.concat(coreB), bins: binsB, fit: fitB, title: titles[1], tx: 210, ty: 408, cap: 5.5},
  {top: 722, bottom: 958, yDomain: [-0.01, 0.08], yTicks: [0, 0.02, 0.04, 0.06, 0.08], pts: scatterC.concat(coreC), bins: binsC, fit: fitC, title: titles[2], tx: 212, ty: 750, cap: 3}
]

// ---------- drawing ----------
var left = 134, right = 737
var cbLeft = 753, cbWidth = 31
var tickFont = 28, labelFont = 29, titleFont = 28

var svg = d3.select("#chart")
var xScale = d3.scaleLinear().domain([0.5, 2.1]).range([left, right])
var colorScale = d3.scaleQuantize().domain([0, 2.5]).range(parula)

// the figure's lettering is a little wider than Liberation Sans
var stretch = function(sel, sx)
{
    sel.each(function()
    {
        var t = d3.select(this)
        var x = +t.attr("x") || 0, y = +t.attr("y") || 0
        t.attr("x", 0).attr("y", 0)
        .attr("transform", "translate(" + x + "," + y + ") scale(" + sx + ",1)")
    })
}

var drawPanel = function(p)
{
    var yScale = d3.scaleLinear().domain(p.yDomain).range([p.bottom, p.top])
    var g = svg.append("g")

    // points
    g.append("g")
    .selectAll("circle")
    .data(p.pts)
    .enter()
    .append("circle")
    .attr("cx", function(d) { return xScale(d[0]) })
    .attr("cy", function(d) { return yScale(d[1]) })
    .attr("r", 4.8)
    .attr("fill", function(d) { return colorScale(d[2]) })

    // red fit
    var line = d3.line()
    .x(function(d) { return xScale(d[0]) })
    .y(function(d) { return yScale(d[1]) })
    .curve(d3.curveMonotoneX)

    g.append("path")
    .datum(p.fit)
    .attr("d", line)
    .attr("fill", "none")
    .attr("stroke", "#ff0000")
    .attr("stroke-width", 5)

    // error bars
    var bars = g.append("g")
    .selectAll("g")
    .data(p.bins)
    .enter()
    .append("g")
    .attr("stroke", "#0000ff")
    .attr("stroke-width", 3)

    bars.append("line")
    .attr("x1", function(d) { return xScale(d[0]) })
    .attr("x2", function(d) { return xScale(d[0]) })
    .attr("y1", function(d) { return yScale(d[2]) })
    .attr("y2", function(d) { return yScale(d[3]) })

    bars.append("line")
    .attr("x1", function(d) { return xScale(d[0]) - p.cap })
    .attr("x2", function(d) { return xScale(d[0]) + p.cap })
    .attr("y1", function(d) { return yScale(d[2]) })
    .attr("y2", function(d) { return yScale(d[2]) })

    bars.append("line")
    .attr("x1", function(d) { return xScale(d[0]) - p.cap })
    .attr("x2", function(d) { return xScale(d[0]) + p.cap })
    .attr("y1", function(d) { return yScale(d[3]) })
    .attr("y2", function(d) { return yScale(d[3]) })

    bars.append("circle")
    .attr("cx", function(d) { return xScale(d[0]) })
    .attr("cy", function(d) { return yScale(d[1]) })
    .attr("r", 6.5)
    .attr("fill", "#fff")

    // axes, ticks pointing inward
    var xAxis = d3.axisBottom(xScale).tickValues(xTicks).tickSizeInner(-7).tickSizeOuter(0).tickPadding(16).tickFormat(String)
    var yAxis = d3.axisLeft(yScale).tickValues(p.yTicks).tickSizeInner(-7).tickSizeOuter(0).tickPadding(10).tickFormat(String)

    var ax = g.append("g").attr("transform", "translate(0," + p.bottom + ")").call(xAxis)
    var ay = g.append("g").attr("transform", "translate(" + left + ",0)").call(yAxis)
    ;[ax, ay].forEach(function(a)
    {
        a.selectAll("text").style("font-size", tickFont + "px").attr("fill", "#000")
        a.selectAll("line, path").attr("stroke", "#000")
        stretch(a.selectAll("text"), 1.05)
    })

    // title with subscript
    var t = g.append("text")
    .attr("x", p.tx)
    .attr("y", p.ty)
    .style("font-size", titleFont + "px")
    t.append("tspan").text(p.title.pre)
    t.append("tspan").attr("dy", 14).text(p.title.sub)
    t.append("tspan").attr("dy", -14).text(p.title.post)
    stretch(t, 1.1)

    // x label
    var xl = g.append("text")
    .attr("x", (left + right) / 2)
    .attr("y", p.bottom + 70)
    .attr("text-anchor", "middle")
    .style("font-size", labelFont + "px")
    .text("water depth (m)")
    stretch(xl, 1.17)

    // y label C_B
    var mid = (p.top + p.bottom) / 2
    var yl = g.append("text")
    .attr("transform", "translate(35," + mid + ") rotate(-90)")
    .attr("text-anchor", "middle")
    .style("font-size", "30px")
    yl.append("tspan").text("C")
    yl.append("tspan").attr("dy", 18).text("B")

    // colorbar
    var cScale = d3.scaleLinear().domain([0, 2.5]).range([p.bottom, p.top])
    var cb = g.append("g")
    cb.selectAll("rect")
    .data(parula)
    .enter()
    .append("rect")
    .attr("x", cbLeft)
    .attr("width", cbWidth)
    .attr("y", function(c, i) { return cScale((i + 1) * 0.25) })
    .attr("height", function(c, i) { return cScale(i * 0.25) - cScale((i + 1) * 0.25) })
    .attr("fill", function(c) { return c })

    cb.append("rect")
    .attr("x", cbLeft).attr("y", p.top)
    .attr("width", cbWidth).attr("height", p.bottom - p.top)
    .attr("fill", "none").attr("stroke", "#000").attr("stroke-width", 1)

    cb.selectAll("line.cbt")
    .data(cbTicks.slice(1, -1))
    .enter()
    .append("line")
    .attr("x1", cbLeft + cbWidth - 3).attr("x2", cbLeft + cbWidth)
    .attr("y1", function(d) { return cScale(d) })
    .attr("y2", function(d) { return cScale(d) })
    .attr("stroke", "#000")

    var cbt = cb.selectAll("text")
    .data(cbTicks)
    .enter()
    .append("text")
    .attr("x", cbLeft + cbWidth + 8)
    .attr("y", function(d) { return cScale(d) })
    .attr("dy", "0.35em")
    .style("font-size", tickFont + "px")
    .text(String)
    stretch(cbt, 1.03)

    var cl = g.append("text")
    .attr("transform", "translate(857," + mid + ") rotate(-90)")
    .attr("text-anchor", "middle")
    .style("font-size", "28px")
    cl.append("tspan").text("u")
    cl.append("tspan").attr("dy", 12).text("w")
    cl.append("tspan").attr("dy", -12).text("/U")
}

panels.forEach(drawPanel)
</script>
</body>
</html>
